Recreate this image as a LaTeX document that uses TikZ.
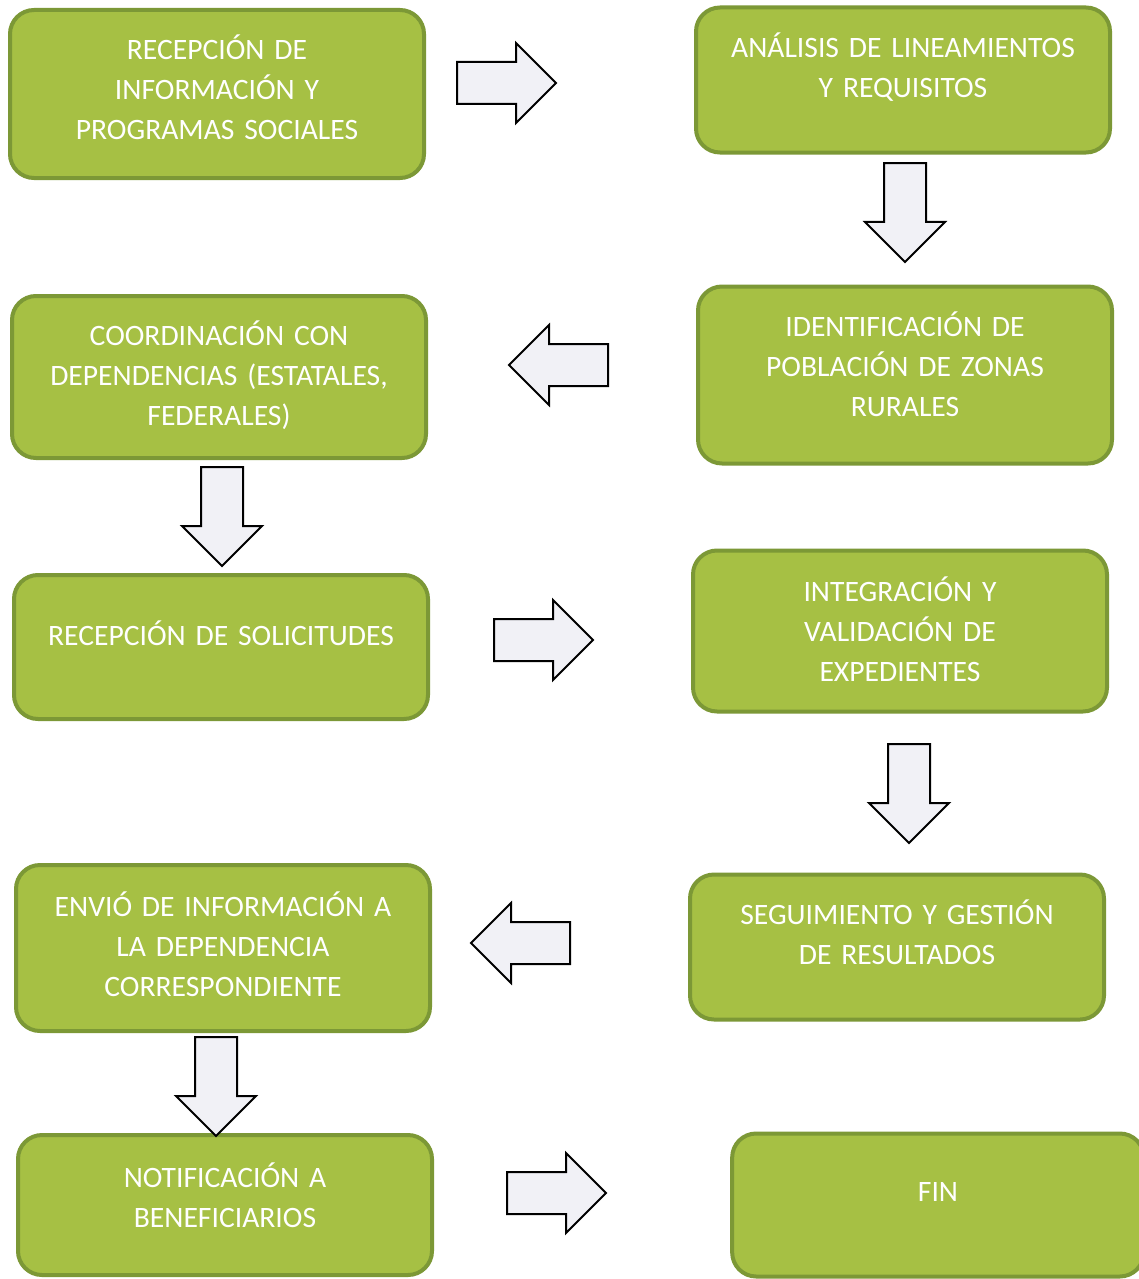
\documentclass[tikz,border=0pt]{standalone}
\usepackage{fontspec}
\setmainfont{Carlito}
\usetikzlibrary{shapes.arrows}

\definecolor{verde}{RGB}{166,192,68}
\definecolor{verdeborde}{RGB}{124,152,54}
\definecolor{flecha}{RGB}{241,241,246}

\tikzset{
  paso/.style={draw=verdeborde, line width=4pt, fill=verde, rounded corners=24pt,
    minimum width=414pt, text width=405pt, align=center, text=white,
    text height=21pt, font=\fontsize{29.6}{40}\selectfont},
  % lineas de texto y desplazamiento hacia arriba
  lineas/.style 2 args={text depth={(#1-1)*40pt+8pt+2*#2}},
  bloque/.style={single arrow, draw=black, line width=2pt, fill=flecha,
    minimum width=78pt, minimum height=99pt, inner sep=20pt,
    single arrow head extend=19pt, single arrow tip angle=90},
}

\begin{document}
\begin{tikzpicture}[x=1pt,y=-1pt]
\useasboundingbox[fill=white] (0,0) rectangle (1139,1279);

\node[paso, lineas={3}{1pt}, minimum height=168pt] (recepcion) at (217,94) {RECEPCIÓN DE\\INFORMACIÓN Y\\PROGRAMAS SOCIALES};
\node[paso, lineas={2}{9pt}, minimum height=145pt] (analisis) at (903,80) {ANÁLISIS DE LINEAMIENTOS\\Y REQUISITOS};
\node[paso, lineas={3}{5pt}, minimum height=177pt] (identificacion) at (905,375) {IDENTIFICACIÓN DE\\POBLACIÓN DE ZONAS\\RURALES};
\node[paso, lineas={3}{-2pt}, minimum height=162pt] (coordinacion) at (219,377) {COORDINACIÓN CON\\DEPENDENCIAS (ESTATALES,\\FEDERALES)};
\node[paso, lineas={1}{8pt}, minimum height=144pt] (solicitudes) at (221,647) {RECEPCIÓN DE SOLICITUDES};
\node[paso, lineas={3}{-4pt}, minimum height=161pt] (integracion) at (900,631) {INTEGRACIÓN Y\\VALIDACIÓN DE\\EXPEDIENTES};
\node[paso, lineas={2}{9pt}, minimum height=145pt] (seguimiento) at (897,947) {SEGUIMIENTO Y GESTIÓN\\DE RESULTADOS};
\node[paso, lineas={3}{-2pt}, minimum height=166pt] (envio) at (223,948) {ENVIÓ DE INFORMACIÓN A\\LA DEPENDENCIA\\CORRESPONDIENTE};
\node[paso, lineas={2}{4pt}, minimum height=140pt] (notificacion) at (225,1205) {NOTIFICACIÓN A\\BENEFICIARIOS};
\node[paso, lineas={1}{10pt}, minimum width=402pt, minimum height=143pt] (fin) at (938,1205) {FIN};

% flechas entre pasos
\node[bloque] (f1) at (496,83) {};
\node[bloque, shape border rotate=270] (f2) at (905,202) {};
\node[bloque, shape border rotate=180] (f3) at (569,365) {};
\node[bloque, shape border rotate=270] (f4) at (222,506) {};
\node[bloque] (f5) at (533,640) {};
\node[bloque, shape border rotate=270] (f6) at (909,783) {};
\node[bloque, shape border rotate=180] (f7) at (531,943) {};
\node[bloque, shape border rotate=270] (f8) at (216,1076) {};
\node[bloque] (f9) at (546,1193) {};
\end{tikzpicture}
\end{document}
